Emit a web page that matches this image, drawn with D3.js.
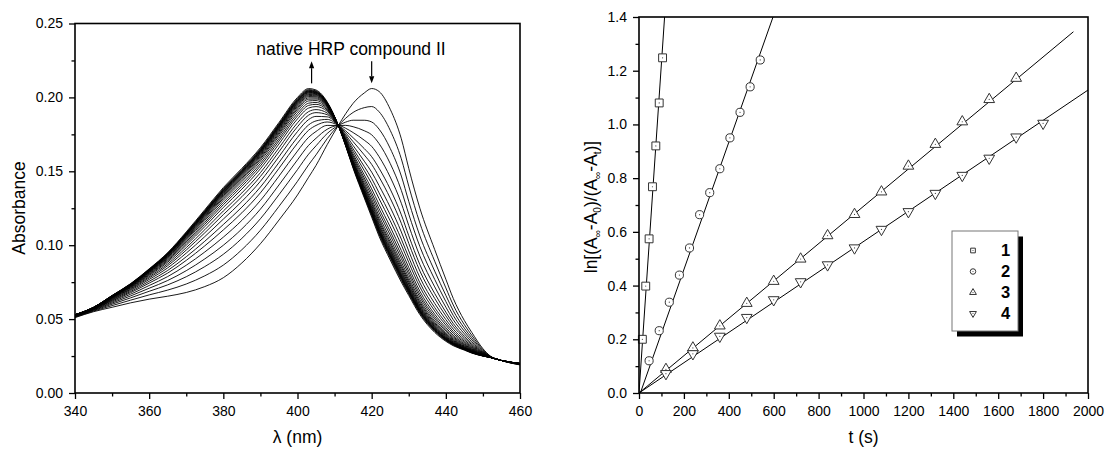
<!DOCTYPE html>
<html>
<head>
<meta charset="utf-8">
<script src="https://cdn.jsdelivr.net/npm/d3@7"></script>
<style>
  body { margin: 0; background: #fff; }
  text { font-family: Arial, "Liberation Sans", sans-serif; fill: #000; }
</style>
</head>
<body>
<script>
// ---- left panel: spectra (first scan = compound II, last scan = native HRP)
var lambdas = [340, 345, 350, 355, 360, 365, 370, 375, 380, 385, 390, 395, 400, 403, 405, 408, 411,
  413, 415, 418, 420, 422, 425, 428, 430, 433, 437, 440, 442, 445, 447, 450, 452, 455, 460];
var nativeAbs = [0.053, 0.058, 0.066, 0.074, 0.084, 0.095, 0.109, 0.124, 0.139, 0.152, 0.166, 0.183, 0.200, 0.206, 0.205, 0.197, 0.181,
  0.167, 0.152, 0.132, 0.119, 0.106, 0.090, 0.075, 0.066, 0.053, 0.041, 0.035, 0.032, 0.029, 0.027, 0.025, 0.024, 0.022, 0.020];
var compoundAbs = [0.051, 0.055, 0.058, 0.061, 0.0635, 0.0655, 0.068, 0.072, 0.078, 0.088, 0.101, 0.117, 0.134, 0.146, 0.154, 0.168, 0.181,
  0.189, 0.196, 0.203, 0.206, 0.204, 0.192, 0.172, 0.152, 0.125, 0.097, 0.077, 0.064, 0.049, 0.041, 0.030, 0.025, 0.022, 0.019];
var mixFractions = [1, 0.86, 0.74, 0.64, 0.55, 0.47, 0.41, 0.35, 0.30, 0.26, 0.22, 0.19, 0.165, 0.14,
  0.12, 0.105, 0.09, 0.078, 0.067, 0.058, 0.05, 0.043, 0.037, 0.032, 0.027, 0.02, 0.012, 0];

var arrowLambdas = [403.8, 420];
var arrowDirs = ["up", "down"];

// ---- right panel: kinetics
var t1 = [15, 30, 45, 60, 75, 90, 105];
var ln1 = [0.2, 0.398, 0.574, 0.768, 0.92, 1.08, 1.248];
var t2 = [45, 90, 135, 180, 225, 270, 315, 360, 405, 450, 495, 540];
var ln2 = [0.12, 0.232, 0.338, 0.439, 0.54, 0.664, 0.746, 0.835, 0.95, 1.045, 1.14, 1.24];
var t3 = [120, 240, 360, 480, 600, 720, 840, 960, 1080, 1200, 1320, 1440, 1560, 1680];
var ln3 = [0.088, 0.168, 0.25, 0.334, 0.416, 0.499, 0.586, 0.665, 0.749, 0.845, 0.926, 1.01, 1.093, 1.172];
var t4 = [120, 240, 360, 480, 600, 720, 840, 960, 1080, 1200, 1320, 1440, 1560, 1680, 1800];
var ln4 = [0.072, 0.146, 0.211, 0.281, 0.347, 0.414, 0.477, 0.54, 0.609, 0.675, 0.743, 0.81, 0.874, 0.953, 1.004];

var fitStartT = [0, 6, 0, 0];
var fitStartY = [0, 0, 0, 0];
var fitEndT = [114, 597, 1935, 2000];
var fitEndY = [1.4, 1.4, 1.345, 1.128];

var seriesNames = ["1", "2", "3", "4"];

var svg = d3.select("body").append("svg")
  .attr("width", 1105)
  .attr("height", 449);

// draw a framed panel with outward major/minor ticks
function drawFrame(g, x, y, xMajor, xMinor, yMajor, yMinor, yFmt) {
  var x0 = x.range()[0], x1 = x.range()[1], y0 = y.range()[0], y1 = y.range()[1];
  g.append("g").attr("transform", "translate(0," + y0 + ")")
    .call(d3.axisBottom(x).tickValues(xMinor).tickSize(3.5).tickFormat(""));
  g.append("g").attr("transform", "translate(0," + y0 + ")")
    .call(d3.axisBottom(x).tickValues(xMajor).tickSize(6).tickPadding(7).tickFormat(d3.format("d")));
  g.append("g").attr("transform", "translate(" + x0 + ",0)")
    .call(d3.axisLeft(y).tickValues(yMinor).tickSize(3.5).tickFormat(""));
  g.append("g").attr("transform", "translate(" + x0 + ",0)")
    .call(d3.axisLeft(y).tickValues(yMajor).tickSize(6).tickPadding(6).tickFormat(d3.format(yFmt)));
  g.selectAll(".domain").remove();
  g.selectAll(".tick line").attr("stroke", "#000").attr("stroke-width", 1.3);
  g.selectAll(".tick text").style("font-size", "14px").attr("fill", "#000");
  g.append("rect")
    .attr("x", x0).attr("y", y1)
    .attr("width", x1 - x0).attr("height", y0 - y1)
    .attr("fill", "none").attr("stroke", "#000").attr("stroke-width", 1.6);
}

// ================= left panel
var xL = d3.scaleLinear().domain([340, 460]).range([75, 520]);
var yL = d3.scaleLinear().domain([0, 0.25]).range([393, 23.5]);
var left = svg.append("g");

svg.append("clipPath").attr("id", "clipL").append("rect")
  .attr("x", 75).attr("y", 23.5).attr("width", 445).attr("height", 369.5);

var scans = mixFractions.map(function (f) {
  return lambdas.map(function (l, i) {
    return { l: l, a: nativeAbs[i] + f * (compoundAbs[i] - nativeAbs[i]) };
  });
});

var specLine = d3.line()
  .x(function (d) { return xL(d.l); })
  .y(function (d) { return yL(d.a); })
  .curve(d3.curveMonotoneX);

left.append("g").attr("clip-path", "url(#clipL)")
  .selectAll("path")
  .data(scans)
  .enter()
  .append("path")
  .attr("d", specLine)
  .attr("fill", "none")
  .attr("stroke", "#000")
  .attr("stroke-width", 0.9);

drawFrame(left, xL, yL,
  d3.range(340, 461, 20), d3.range(350, 460, 20),
  d3.range(0, 0.251, 0.05), d3.range(0.025, 0.25, 0.05), ".2f");

left.append("text")
  .attr("transform", "translate(25," + 208 + ") rotate(-90)")
  .attr("text-anchor", "middle")
  .style("font-size", "17.5px")
  .text("Absorbance");

left.append("text")
  .attr("x", xL(400)).attr("y", 443)
  .attr("text-anchor", "middle")
  .style("font-size", "17.5px")
  .text("\u03bb (nm)");

// annotation
left.append("text")
  .attr("x", xL(388.9)).attr("y", yL(0.2287))
  .style("font-size", "17.5px")
  .text("native HRP compound II");

arrowLambdas.forEach(function (l, i) {
  var xa = xL(l);
  var top = yL(0.2245), bottom = yL(0.2095);
  var tipY = arrowDirs[i] == "up" ? top : bottom;
  var baseY = arrowDirs[i] == "up" ? top + 7 : bottom - 7;
  left.append("line")
    .attr("x1", xa).attr("x2", xa)
    .attr("y1", arrowDirs[i] == "up" ? baseY : top)
    .attr("y2", arrowDirs[i] == "up" ? bottom : baseY)
    .attr("stroke", "#000").attr("stroke-width", 1.2);
  left.append("path")
    .attr("d", "M" + xa + "," + tipY + "L" + (xa - 2.6) + "," + baseY + "L" + (xa + 2.6) + "," + baseY + "Z")
    .attr("fill", "#000");
});

// ================= right panel
var xR = d3.scaleLinear().domain([0, 2000]).range([639, 1088]);
var yR = d3.scaleLinear().domain([0, 1.4]).range([393, 17]);
var right = svg.append("g");

svg.append("clipPath").attr("id", "clipR").append("rect")
  .attr("x", 639).attr("y", 17).attr("width", 449).attr("height", 376);

var fits = fitStartT.map(function (t, i) {
  return [[t, fitStartY[i]], [fitEndT[i], fitEndY[i]]];
});

right.append("g").attr("clip-path", "url(#clipR)")
  .selectAll("line")
  .data(fits)
  .enter()
  .append("line")
  .attr("x1", function (d) { return xR(d[0][0]); })
  .attr("y1", function (d) { return yR(d[0][1]); })
  .attr("x2", function (d) { return xR(d[1][0]); })
  .attr("y2", function (d) { return yR(d[1][1]); })
  .attr("stroke", "#000")
  .attr("stroke-width", 1);

var allT = [t1, t2, t3, t4];
var allLn = [ln1, ln2, ln3, ln4];
var symTypes = [d3.symbolSquare, d3.symbolCircle, d3.symbolTriangle, d3.symbolTriangle];
var symRotate = [0, 0, 0, 180];
var symSizes = [62, 52, 50, 50];
var legendSizes = [22, 24, 20, 20];

function drawMarker(g, x, y, k, size) {
  var m = g.append("g").attr("transform", "translate(" + x + "," + y + ")");
  m.append("path")
    .attr("d", d3.symbol().type(symTypes[k]).size(size)())
    .attr("transform", "rotate(" + symRotate[k] + ")")
    .attr("fill", "#fff")
    .attr("stroke", "#333")
    .attr("stroke-width", 1);
  m.append("circle").attr("r", 0.6).attr("fill", "#444");
}

allT.forEach(function (ts, k) {
  var grp = right.append("g");
  ts.forEach(function (t, i) {
    drawMarker(grp, xR(t), yR(allLn[k][i]), k, symSizes[k]);
  });
});

drawFrame(right, xR, yR,
  d3.range(0, 2001, 200), d3.range(100, 2000, 200),
  d3.range(0, 1.401, 0.2), d3.range(0.1, 1.4, 0.2), ".1f");

right.append("text")
  .attr("x", (639 + 1088) / 2).attr("y", 443)
  .attr("text-anchor", "middle")
  .style("font-size", "17.5px")
  .text("t (s)");

var yTitle = right.append("text")
  .attr("transform", "translate(597,207) rotate(-90)")
  .attr("text-anchor", "middle")
  .style("font-size", "17.5px");
var titleParts = [["ln[(A", 0], ["\u221e", 1], ["-A", 0], ["0", 1], [")/(A", 0], ["\u221e", 1], ["-A", 0], ["t", 1], [")]", 0]];
var shift = 0;
titleParts.forEach(function (p) {
  var dy = p[1] ? 4 - shift : -shift;
  shift = p[1] ? 4 : 0;
  yTitle.append("tspan")
    .attr("dy", dy)
    .style("font-size", p[1] ? "10px" : "17.5px")
    .text(p[0]);
});

// legend with drop shadow
var lg = right.append("g");
lg.append("rect").attr("x", 957).attr("y", 236.5).attr("width", 66).attr("height", 100).attr("fill", "#000");
lg.append("rect").attr("x", 952).attr("y", 231).attr("width", 66).attr("height", 100)
  .attr("fill", "#fff").attr("stroke", "#777").attr("stroke-width", 1);
seriesNames.forEach(function (name, k) {
  var ly = 250.5 + k * 21;
  drawMarker(lg, 973, ly, k, legendSizes[k]);
  lg.append("text")
    .attr("x", 1001).attr("y", ly).attr("dy", "0.36em")
    .style("font-size", "16.5px").style("font-weight", "bold")
    .text(name);
});
</script>
</body>
</html>
